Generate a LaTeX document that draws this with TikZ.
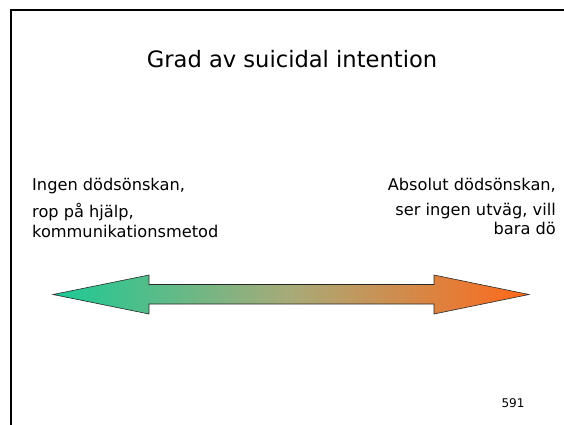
\documentclass[tikz,border=0pt]{standalone}
\usepackage{fontspec}
\setmainfont{DejaVu Sans}
\definecolor{leftgreen}{RGB}{26,202,150}
\definecolor{midtone}{RGB}{168,170,120}
\definecolor{rightorange}{RGB}{255,104,26}
\definecolor{edgegrey}{RGB}{40,40,40}
\pgfdeclarehorizontalshading{arrowshade}{100bp}{
  color(0bp)=(leftgreen); color(25bp)=(leftgreen);
  color(50bp)=(midtone);
  color(75bp)=(rightorange); color(100bp)=(rightorange)}
\tikzset{
  titletext/.style={inner sep=0pt, font=\fontsize{22.6}{27}\selectfont},
  bodytext/.style={inner sep=0pt, font=\fontsize{16.2}{19}\selectfont},
  pagetext/.style={inner sep=0pt, font=\fontsize{12}{14}\selectfont},
  frameline/.style={line width=2.3pt, black},
  gradarrow/.style={shading=arrowshade, draw=edgegrey, line width=0.6pt, line join=miter}
}
\begin{document}
\begin{tikzpicture}[x=1pt,y=-1pt]
\useasboundingbox (0,0) rectangle (564,424);
\clip (0,0) rectangle (564,424);
% frame
\draw[frameline] (11.2,440) -- (11.2,10.2) -- (580,10.2);
% title
\node[titletext, anchor=base] (title) at (292,67) {Grad av suicidal intention};
% left text
\node[bodytext, anchor=base west] (l1) at (32,190) {Ingen dödsönskan,};
\node[bodytext, anchor=base west] (l2) at (32,217) {rop på hjälp,};
\node[bodytext, anchor=base west] (l3) at (32,237) {kommunikationsmetod};
% right text
\node[bodytext, anchor=base east] (r1) at (556,190) {Absolut dödsönskan,};
\node[bodytext, anchor=base east] (r2) at (556,215) {ser ingen utväg, vill};
\node[bodytext, anchor=base east] (r3) at (556,234) {bara dö};
% arrow
\shadedraw[gradarrow] (53,294.5) -- (149,275) -- (149,284.5) -- (434,284.5) -- (434,275)
  -- (529,294.5) -- (434,314) -- (434,304) -- (149,304) -- (149,314) -- cycle;
% page number
\node[pagetext, anchor=base] (page) at (513,407) {591};
\end{tikzpicture}
\end{document}
